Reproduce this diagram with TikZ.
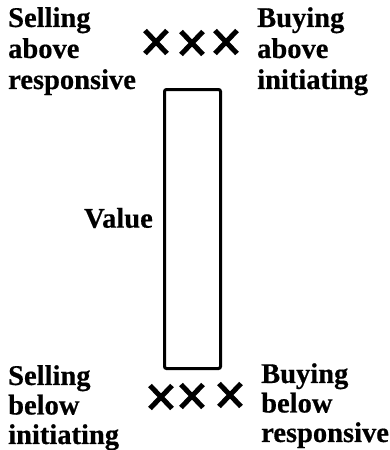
\documentclass[tikz,border=0pt]{standalone}
\usepackage{fontspec}
\setmainfont[BoldFeatures={FakeBold=0.5}]{Liberation Serif}
\usetikzlibrary{shapes.misc}
\tikzset{label-text/.style={align=left, inner sep=0pt, font=\fontsize{28.5}{31}\selectfont\bfseries}}
\tikzset{label-low/.style={label-text, font=\fontsize{28.5}{29.5}\selectfont\bfseries}}
\tikzset{mark-x/.style={cross out, draw, line width=5pt, inner sep=0pt, minimum width=17pt, minimum height=18pt}}
\tikzset{value-box/.style={draw, line width=3pt, rounded corners=2pt, minimum width=56pt, minimum height=279pt}}

\begin{document}
\begin{tikzpicture}[x=1pt, y=-1pt]
      \useasboundingbox (0,0) rectangle (390,450);

      \node[label-text, anchor=north west] (SA) at (8,7) {Selling\\above\\responsive};
      \node[label-text, anchor=north west] (BA) at (257,7) {Buying\\above\\initiating};
      \node[label-low, anchor=north west] (SB) at (8,365) {Selling\\below\\initiating};
      \node[label-low, anchor=north west] (BB) at (261,363) {Buying\\below\\responsive};

      \node[value-box] (V) at (192.5,229) {};
      \node[label-text, anchor=east] (Vl) at (153,218) {Value};

      \node[mark-x] (xa1) at (156,42) {};
      \node[mark-x] (xa2) at (192,43) {};
      \node[mark-x] (xa3) at (226,42) {};
      \node[mark-x] (xb1) at (161,397) {};
      \node[mark-x] (xb2) at (192,396) {};
      \node[mark-x] (xb3) at (230,395) {};
    \end{tikzpicture}
\end{document}
